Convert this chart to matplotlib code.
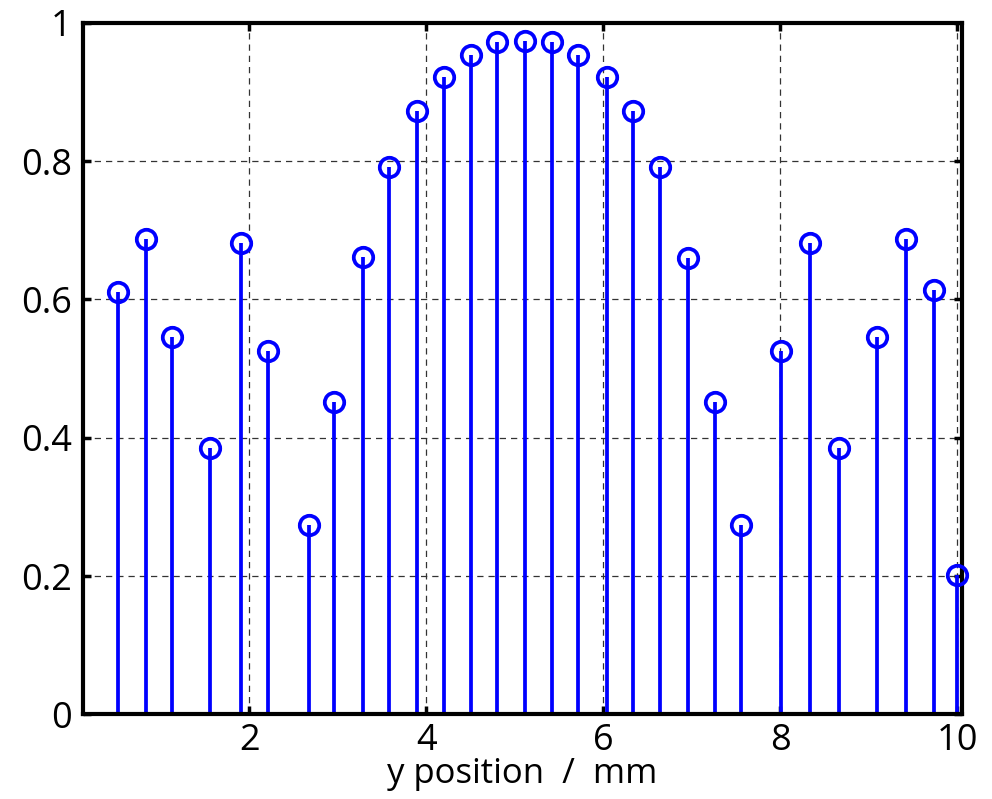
import matplotlib
matplotlib.use("Agg")
import matplotlib.pyplot as plt

# Sample positions along y (mm) and normalised amplitudes
positions = [0.51, 0.83, 1.13, 1.56, 1.91, 2.21, 2.67, 2.96, 3.29, 3.58,
             3.90, 4.20, 4.50, 4.80, 5.12, 5.42, 5.72, 6.04, 6.34, 6.64,
             6.96, 7.26, 7.56, 8.01, 8.34, 8.66, 9.09, 9.42, 9.74, 10.0]
amplitudes = [0.611, 0.687, 0.546, 0.385, 0.681, 0.525, 0.274, 0.452, 0.661, 0.791,
              0.872, 0.921, 0.954, 0.972, 0.974, 0.972, 0.954, 0.921, 0.872, 0.791,
              0.660, 0.452, 0.274, 0.526, 0.681, 0.385, 0.546, 0.687, 0.613, 0.201]

xticks = [2, 4, 6, 8, 10]
yticks = [0, 0.2, 0.4, 0.6, 0.8, 1]
ytick_labels = ["0", "0.2", "0.4", "0.6", "0.8", "1"]

plt.rcParams["font.family"] = ["Open Sans", "DejaVu Sans"]

fig = plt.figure(figsize=(9.92, 7.99), dpi=100)
ax = fig.add_axes([0.0837, 0.106, 0.8861, 0.8654])

blue = "#0000ff"
markerline, stemlines, baseline = ax.stem(positions, amplitudes, basefmt=" ")
plt.setp(stemlines, color=blue, linewidth=2.7)
plt.setp(markerline, marker="o", markersize=14, markerfacecolor="none",
         markeredgecolor=blue, markeredgewidth=2.7, clip_on=False, zorder=4)

ax.set_xlim(0.12, 10.056)
ax.set_ylim(0, 1)
ax.set_xticks(xticks)
ax.set_yticks(yticks)
ax.set_yticklabels(ytick_labels)

ax.grid(True, linestyle=(0, (5, 4)), color="#333333", linewidth=0.9)
ax.set_axisbelow(True)

for s in ax.spines.values():
    s.set_linewidth(3.0)
ax.tick_params(direction="in", length=6, width=2.5, top=True, right=True,
               labelsize=26)
ax.tick_params(axis="x", pad=6)
ax.tick_params(axis="y", pad=8)

ax.set_xlabel("y position  /  mm", fontsize=25, labelpad=-1)

fig.savefig("out.png", dpi=100)
